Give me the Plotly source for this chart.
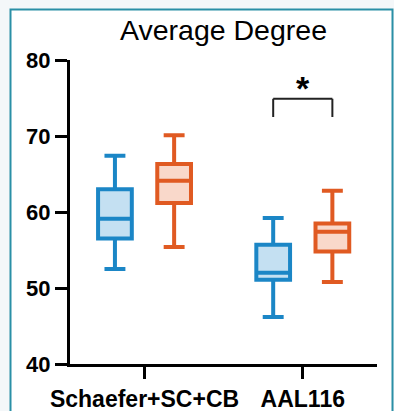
import plotly.graph_objects as go

# ---- data ----
categories = ["Schaefer+SC+CB", "AAL116"]
blue_lower = [52.5, 46.2]
blue_q1 = [56.5, 51.1]
blue_median = [59.1, 52.0]
blue_q3 = [63.0, 55.7]
blue_upper = [67.4, 59.2]
orange_lower = [55.4, 50.8]
orange_q1 = [61.2, 54.8]
orange_median = [64.1, 57.4]
orange_q3 = [66.3, 58.5]
orange_upper = [70.1, 62.8]
y_ticks = [40, 50, 60, 70, 80]
title_text = "Average Degree"
sig_label = "*"

# ---- styles ----
FONT = "Liberation Sans, Arial, Helvetica, sans-serif"
BLUE, BLUE_FILL = "#1b86c6", "#c4e0f2"
ORANGE, ORANGE_FILL = "#e05a22", "#f9d8ca"
BOXGAP, GROUPGAP = 0.252, 0.43
W, H = 394, 411
ML, MR, MT, MB = 70, 17, 60, 47

fig = go.Figure()
for name, lo, q1, med, q3, hi, col, fill in [
    ("Group 1", blue_lower, blue_q1, blue_median, blue_q3, blue_upper, BLUE, BLUE_FILL),
    ("Group 2", orange_lower, orange_q1, orange_median, orange_q3, orange_upper, ORANGE, ORANGE_FILL),
]:
    fig.add_trace(go.Box(
        name=name, x=categories, q1=q1, median=med, q3=q3,
        lowerfence=lo, upperfence=hi, boxpoints=False,
        line=dict(color=col, width=4), fillcolor=fill,
        whiskerwidth=0.62, showlegend=False, hoverinfo="skip",
    ))

pw, ph = W - ML - MR, H - MT - MB
def pxx(px):
    return (px - ML) / pw
def pxy(py):
    return (H - MB - py) / ph

shapes = [dict(type="rect", xref="paper", yref="paper",
               x0=pxx(10.5), x1=pxx(392.5), y0=pxy(412), y1=pxy(9.5),
               line=dict(color="#2a8fa6", width=2), fillcolor="white", layer="below")]

off = (1 - BOXGAP) / 4
bx0, bx1 = 1 - off, 1 + off
btop, bbot = 74.9, 72.5
for (xa, ya, xb, yb) in [(bx0, btop, bx1, btop), (bx0, btop, bx0, bbot), (bx1, btop, bx1, bbot)]:
    shapes.append(dict(type="line", xref="x", yref="y", x0=xa, y0=ya, x1=xb, y1=yb,
                       line=dict(color="#222222", width=2)))

fig.update_layout(
    template="none",
    width=W, height=H, autosize=False,
    margin=dict(l=ML, r=MR, t=MT, b=MB, pad=0, autoexpand=False),
    paper_bgcolor="#f4f7f9", plot_bgcolor="white",
    boxmode="group", boxgap=BOXGAP, boxgroupgap=GROUPGAP,
    showlegend=False,
    title=dict(text=title_text, x=0.5, xref="paper", xanchor="center",
               y=1 - 30 / H, yanchor="middle", automargin=False,
               font=dict(family=FONT, size=28.5, color="black")),
    shapes=shapes,
    annotations=[dict(x=1, y=76.3, xref="x", yref="y", text=sig_label, showarrow=False,
                      yanchor="middle", font=dict(family=FONT, size=34, color="black", weight=700))],
    font=dict(family=FONT),
)
fig.update_xaxes(type="category", range=[-0.471, 1.469], showline=True, linecolor="black",
                 linewidth=3, ticks="outside", ticklen=12, tickwidth=3, tickcolor="black",
                 showgrid=False, zeroline=False, automargin=False,
                 tickfont=dict(family=FONT, size=23, color="black", weight=700))
fig.update_yaxes(range=[40, 80], tickvals=y_ticks, showline=True, linecolor="black",
                 linewidth=3, ticks="outside", ticklen=12, tickwidth=3, tickcolor="black",
                 showgrid=False, zeroline=False, automargin=False,
                 tickfont=dict(family=FONT, size=22, color="black", weight=700))

fig.write_html("out.html", config={"displayModeBar": False},
               post_script="document.body.style.margin='0';document.body.style.background='#f4f7f9';")
